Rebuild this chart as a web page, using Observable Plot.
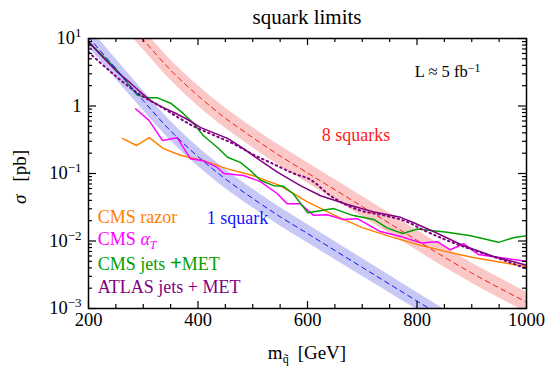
<!DOCTYPE html>
<html><head><meta charset="utf-8">
<script src="https://cdn.jsdelivr.net/npm/d3@7"></script>
<script src="https://cdn.jsdelivr.net/npm/@observablehq/plot@0.6"></script>
<style>
html,body{margin:0;padding:0;background:#fff;}
#chart svg{display:block;}
#chart svg text, #chart svg tspan{font-family:"Liberation Serif","DejaVu Serif",serif !important;}
</style></head>
<body><div id="chart"></div>
<script>
// ---- data (GeV, pb) ----
const theoryMass = [200,250,300,350,400,450,500,550,600,650,700,750,800,850,900,950,1000];
const oneSquark   = [10.5,3.55,1.20,0.427,0.178,0.0832,0.0427,0.0229,0.0129,0.00724,0.00407,0.00229,0.00129,0.000724,0.000417,0.000245,0.000148];
const oneSquarkLo = [7.43,2.52,0.857,0.306,0.128,0.0601,0.0310,0.0167,0.00945,0.00533,0.00301,0.00170,0.000961,0.000542,0.000313,0.000185,0.000112];
const oneSquarkHi = [14.8,4.99,1.68,0.595,0.247,0.115,0.0588,0.0314,0.0176,0.00983,0.00550,0.00308,0.00173,0.000968,0.000555,0.000325,0.000195];
const eightSquarks   = [83,28.4,9.6,3.4,1.42,0.66,0.34,0.182,0.102,0.0575,0.0324,0.0182,0.0102,0.00575,0.00335,0.00202,0.00124];
const eightSquarksLo = [58.7,20.1,6.79,2.41,1.00,0.467,0.241,0.129,0.0722,0.0407,0.0229,0.0129,0.00722,0.00407,0.00237,0.00143,0.000878];
const eightSquarksHi = [117,40.1,13.6,4.80,2.01,0.933,0.480,0.257,0.144,0.0812,0.0458,0.0257,0.0144,0.00812,0.00473,0.00285,0.00175];

const razorMass = [262,288,311,337,368,410,454,500,550,600,650,700,750,800,850,900,950,1000];
const razorXsec = [0.331,0.260,0.341,0.234,0.186,0.155,0.117,0.0933,0.0661,0.0380,0.0240,0.0158,0.0117,0.00891,0.00708,0.00575,0.00490,0.00417];

const alphaTMass = [286,310,335,362,386,410,435,447,483,514,545,563,587,611,636,664,691,733,770,808,837,861,885,912,947,1000];
const alphaTXsec = [0.912,0.617,0.309,0.339,0.166,0.155,0.123,0.100,0.0933,0.0759,0.0501,0.0355,0.0355,0.0240,0.0245,0.0209,0.0214,0.0138,0.0117,0.00933,0.00977,0.00741,0.00912,0.00631,0.00575,0.00501];

const jetsMass = [200,250,289,308,326,350,373,392,410,435,454,478,496,514,538,556,574,600,648,682,721,746,774,801,855,898,949,976,1000];
const jetsXsec = [8.91,3.55,1.45,1.32,1.32,1.10,0.776,0.550,0.363,0.245,0.174,0.145,0.110,0.0794,0.0661,0.0646,0.0501,0.0263,0.0302,0.0240,0.0209,0.0155,0.0129,0.0151,0.0135,0.0120,0.00955,0.0112,0.0120];

const atlasMass = [200,229,253,278,297,315,333,357,381,405,454,483,514,545,587,624,673,721,770,794,830,885,940,1000];
const atlasXsec = [8.91,5.01,3.16,2.14,1.55,1.17,0.977,0.794,0.631,0.479,0.331,0.234,0.155,0.105,0.0661,0.0468,0.0347,0.0269,0.0224,0.0186,0.0138,0.00851,0.00589,0.00437];

const atlasExpMass = [200,216,253,290,330,392,428,465,501,538,575,605,642,697,739,780,812,855,916,953,1000];
const atlasExpXsec = [6.3,4.8,2.63,1.55,1.0,0.501,0.372,0.275,0.191,0.138,0.100,0.0813,0.0468,0.0282,0.0240,0.0195,0.0145,0.0102,0.00676,0.00537,0.00389];

const xMajorTicks = [200,400,600,800,1000];
const xTickLabels = ["200","400","600","800","1000"];
const xMinorTicks = [250,300,350,450,500,550,650,700,750,850,900,950];
const yMajorTicks = [0.001,0.01,0.1,1,10];
const yTickLabels = ["10^-3","10^-2","10^-1","1","10^1"];
const yMinorTicks = [];
for (const d of [0.001,0.01,0.1,1]) for (let k=2;k<=9;k++) yMinorTicks.push(+(d*k).toPrecision(3));

const theory = theoryMass.map((m,i)=>({m, one:oneSquark[i], oneLo:oneSquarkLo[i], oneHi:oneSquarkHi[i],
  eight:eightSquarks[i], eightLo:eightSquarksLo[i], eightHi:eightSquarksHi[i]}));
const series = (ms, vs) => ms.map((m,i)=>({m, v:vs[i]}));

const C = {blue:"#1414ff", red:"#ff1a1a", blueBand:"#c8c8f6", redBand:"#fbc8c8",
  orange:"#ff8000", magenta:"#ff00ff", green:"#00a000", purple:"#800080"};

const FONT = "'Liberation Serif', 'DejaVu Serif', serif";
const FH = 270, FW = 438;
const plot = Plot.plot({
  width: 546, height: 366,
  marginLeft: 88, marginRight: 20, marginTop: 38, marginBottom: 58,
  x: {domain: [200,1000]},
  y: {type: "log", domain: [0.001, 10]},
  style: {fontFamily: FONT, background: "white", color: "black"},
  marks: [
    Plot.areaY(theory, {x:"m", y1:"oneLo", y2:"oneHi", fill:C.blueBand, curve:"monotone-x", clip:true}),
    Plot.areaY(theory, {x:"m", y1:"eightLo", y2:"eightHi", fill:C.redBand, curve:"monotone-x", clip:true}),
    Plot.line(series(razorMass, razorXsec), {x:"m", y:"v", stroke:C.orange, strokeWidth:1.5, clip:true}),
    Plot.line(series(alphaTMass, alphaTXsec), {x:"m", y:"v", stroke:C.magenta, strokeWidth:1.5, clip:true}),
    Plot.line(series(jetsMass, jetsXsec), {x:"m", y:"v", stroke:C.green, strokeWidth:1.5, clip:true}),
    Plot.line(series(atlasMass, atlasXsec), {x:"m", y:"v", stroke:C.purple, strokeWidth:1.5, clip:true}),
    Plot.line(series(atlasExpMass, atlasExpXsec), {x:"m", y:"v", stroke:C.purple, strokeWidth:2, strokeDasharray:"1.5,3.5", strokeLinecap:"round", curve:"monotone-x", clip:true}),
    Plot.line(theory, {x:"m", y:"one", stroke:C.blue, strokeWidth:1, strokeDasharray:"5,4", curve:"monotone-x", clip:true}),
    Plot.line(theory, {x:"m", y:"eight", stroke:C.red, strokeWidth:1, strokeDasharray:"5,4", curve:"monotone-x", clip:true}),
    // inward ticks
    Plot.tickX(xMajorTicks, {x:d=>d, insetTop:FH-7, strokeWidth:1.2}),
    Plot.tickX(xMajorTicks, {x:d=>d, insetBottom:FH-7, strokeWidth:1.2}),
    Plot.tickX(xMinorTicks, {x:d=>d, insetTop:FH-4, strokeWidth:1.2}),
    Plot.tickX(xMinorTicks, {x:d=>d, insetBottom:FH-4, strokeWidth:1.2}),
    Plot.tickY(yMajorTicks, {y:d=>d, insetRight:FW-8, strokeWidth:1.2}),
    Plot.tickY(yMajorTicks, {y:d=>d, insetLeft:FW-8, strokeWidth:1.2}),
    Plot.tickY(yMinorTicks, {y:d=>d, insetRight:FW-4, strokeWidth:1.2}),
    Plot.tickY(yMinorTicks, {y:d=>d, insetLeft:FW-4, strokeWidth:1.2}),
    Plot.frame({stroke:"black", strokeWidth:1.5}),
    Plot.axisX(xMajorTicks, {anchor:"bottom", tickSize:0, tickPadding:4, fontSize:18.5, label:null,
      tickFormat: d => xTickLabels[xMajorTicks.indexOf(d)]}),
    Plot.axisY(yMajorTicks, {anchor:"left", tickSize:0, tickPadding:7, fontSize:18.5, label:null,
      tickFormat: d => yTickLabels[yMajorTicks.indexOf(d)]})
  ]
});
document.getElementById("chart").appendChild(plot);

const svg = d3.select(plot);
svg.attr("font-family", FONT);
// superscripts in y tick labels
svg.selectAll('g[aria-label="y-axis tick label"] text').each(function(){
  const t = d3.select(this); const s = t.text();
  if (s.includes("^")) {
    const [b,e] = s.split("^");
    t.text("");
    t.append("tspan").text(b);
    t.append("tspan").attr("dy","-0.55em").attr("font-size","13px").text(e.replace("-","\u2212"));
  }
});

const sx = plot.scale("x"), sy = plot.scale("y");
function label(xv, yv, color, size, parts, anchor="start") {
  const t = svg.append("text").attr("x", sx.apply(xv)).attr("y", sy.apply(yv))
    .attr("fill", color).attr("font-size", size).attr("text-anchor", anchor);
  for (const p of parts) {
    const s = t.append("tspan").text(p.t);
    if (p.dy) s.attr("dy", p.dy);
    if (p.dx) s.attr("dx", p.dx);
    if (p.fs) s.attr("font-size", p.fs);
    if (p.it) s.attr("font-style", "italic");
    if (p.bold) s.attr("font-weight", "bold");
    if (p.fill) s.attr("fill", p.fill);
  }
  return t;
}
// annotations (positions in GeV, pb)
label(797, 2.64, "black", "16.5px", [{t:"L \u2248 5 fb"},{t:"\u22121", dy:"-0.45em", fs:"12px"}]);
label(627, 0.298, C.red, "18px", [{t:"8 squarks"}]);
label(417, 0.0175, C.blue, "18px", [{t:"1 squark"}]);
label(218, 0.018, C.orange, "18px", [{t:"CMS razor"}]);
label(218, 0.0086, C.magenta, "18px", [{t:"CMS "},{t:"\u03b1", it:true},{t:"T", it:true, fs:"12px", dy:"0.35em"}]);
label(218, 0.00366, C.green, "18px", [{t:"CMS jets "},{t:"+", bold:true, fs:"21px"},{t:"MET"}]);
label(218, 0.00167, C.purple, "18px", [{t:"ATLAS jets + MET"}]);

// title and axis titles
svg.append("text").attr("x", 307).attr("y", 24).attr("text-anchor","middle").attr("font-size","21px").text("squark limits");
const xl = svg.append("text").attr("x", 307).attr("y", 359).attr("text-anchor","middle").attr("font-size","19px");
xl.append("tspan").text("m");
xl.append("tspan").attr("font-size","12px").attr("dy","4").text("q\u0303");
xl.append("tspan").attr("dy","-4").attr("dx","9").text("[GeV]");
const yl = svg.append("text").attr("transform","translate(26,177) rotate(-90)").attr("text-anchor","middle").attr("font-size","19px");
yl.append("tspan").attr("font-style","italic").text("\u03c3");
yl.append("tspan").attr("dx","13").text("[pb]");
</script>
</body></html>
